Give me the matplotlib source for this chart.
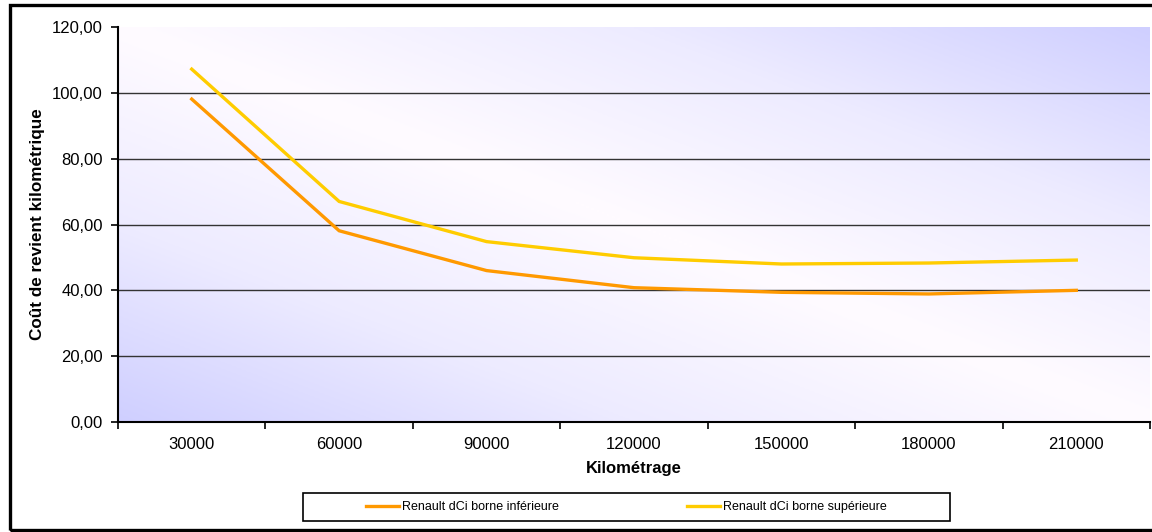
import numpy as np
import matplotlib
matplotlib.use('Agg')
import matplotlib.pyplot as plt
from matplotlib.patches import Rectangle
from matplotlib.colors import LinearSegmentedColormap
from matplotlib.ticker import FixedLocator, FuncFormatter

plt.rcParams['font.family'] = ['Liberation Sans', 'DejaVu Sans']

# ── Data ────────────────────────────────────────────────────────────
kilometrage = ["30000", "60000", "90000", "120000", "150000", "180000", "210000"]
borne_inf = [98.1, 58.1, 46.0, 40.8, 39.4, 38.9, 40.0]
borne_sup = [107.2, 67.0, 54.8, 49.9, 48.0, 48.3, 49.2]
y_ticks = [0, 20, 40, 60, 80, 100, 120]

W, H = 1152, 532
fig = plt.figure(figsize=(W / 100, H / 100), dpi=100)
fig.patch.set_facecolor("white")

x0, x1, ytop, ybot = 118, 1150, 27, 422
ax = fig.add_axes([x0 / W, 1 - ybot / H, (x1 - x0) / W, (ybot - ytop) / H])
ax.set_facecolor("white")

# diagonal gradient background (lavender corners, white band)
u = np.linspace(0, 1, 400)
v = np.linspace(0, 1, 200)
U, V = np.meshgrid(u, v)
T = np.abs(U + V - 1)
cmap = LinearSegmentedColormap.from_list("bg", ["#FFFBFF", "#EDEBFF", "#CFCFFF"])
ax.imshow(T, cmap=cmap, origin="lower", aspect="auto", extent=(0, 1, 0, 1),
          transform=ax.transAxes, zorder=0, interpolation="bilinear")

xs = np.arange(len(kilometrage))
ax.plot(xs, borne_inf, color="#FF9900", lw=2.4, label="Renault dCi borne inférieure",
        zorder=3, solid_joinstyle="miter")
ax.plot(xs, borne_sup, color="#FFCC00", lw=2.4, label="Renault dCi borne supérieure",
        zorder=3, solid_joinstyle="miter")

ax.set_xlim(-0.5, len(kilometrage) - 0.5)
ax.set_ylim(0, 120)

# category axis: ticks between categories, labels centred
ax.xaxis.set_major_locator(FixedLocator(np.arange(-0.5, len(kilometrage), 1.0)))
ax.xaxis.set_minor_locator(FixedLocator(xs))
ax.xaxis.set_major_formatter(FuncFormatter(lambda v, p: ""))
ax.xaxis.set_minor_formatter(FuncFormatter(lambda v, p: kilometrage[int(round(v))]))
ax.tick_params(axis="x", which="major", direction="out", length=5, width=1.2, color="black")
ax.tick_params(axis="x", which="minor", length=0, pad=11, labelsize=12)

ax.set_yticks(y_ticks)
ax.yaxis.set_major_formatter(FuncFormatter(lambda v, p: f"{v:.2f}".replace(".", ",")))
ax.tick_params(axis="y", direction="out", length=5, width=1.2, labelsize=12, pad=6)

ax.grid(axis="y", color="#333333", lw=1.0, zorder=1)
ax.set_axisbelow(True)
gl = ax.get_ygridlines()
gl[0].set_visible(False)
gl[-1].set_visible(False)

for s in ["top", "right"]:
    ax.spines[s].set_visible(False)
for s in ["left", "bottom"]:
    ax.spines[s].set_linewidth(1.5)
    ax.spines[s].set_zorder(4)

ax.set_ylabel("Coût de revient kilométrique", fontsize=12.3, fontweight="bold", va="center")
ax.yaxis.set_label_coords((38 - x0) / (x1 - x0), 0.5)
ax.set_xlabel("Kilométrage", fontsize=12, fontweight="bold", va="center")
ax.xaxis.set_label_coords(0.5, (ybot - 468) / (ybot - ytop))

# legend box
lx0, lx1, ly0, ly1 = 303, 950, 493, 521
fig.patches.append(Rectangle((lx0 / W, 1 - ly1 / H), (lx1 - lx0) / W, (ly1 - ly0) / H,
                             transform=fig.transFigure, fill=False, ec="black", lw=1.2))
fig.legend(loc="center", bbox_to_anchor=(((lx0 + lx1) / 2) / W, 1 - ((ly0 + ly1) / 2) / H),
           ncol=2, frameon=False, prop={"size": 9},
           handlelength=2.64, handletextpad=0.25, columnspacing=10.2)

# outer chart frame
fig.patches.append(Rectangle((10 / W, 2 / H), 1.2, (527 - 2) / H,
                             transform=fig.transFigure, fill=False, ec="black", lw=2.4))

plt.savefig("out.png", dpi=100)
